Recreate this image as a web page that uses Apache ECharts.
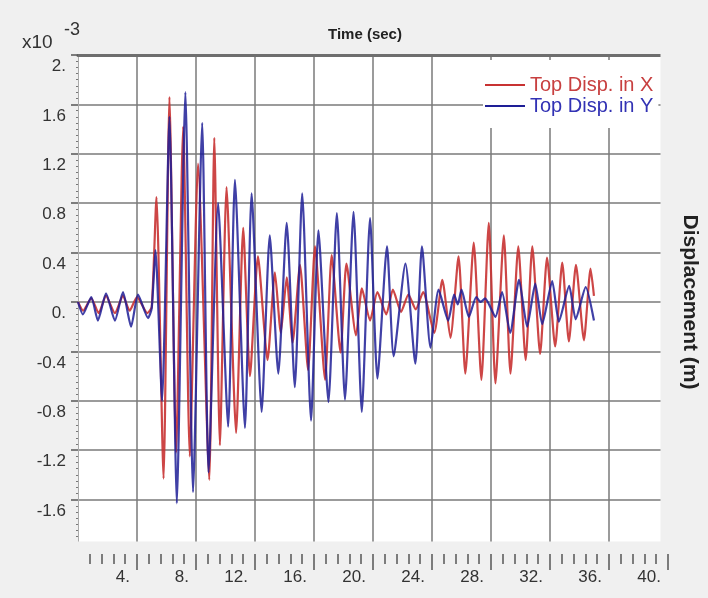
<!DOCTYPE html>
<html>
<head>
<meta charset="utf-8">
<script src="https://cdn.jsdelivr.net/npm/echarts@6/dist/echarts.min.js"></script>
<style>
html, body { margin: 0; padding: 0; background: #f0f0f0; }
#chart { width: 708px; height: 598px; }
</style>
</head>
<body>
<div id="chart"></div>
<script>
// peaks and troughs: time (sec) and displacement (x10^-3 m)
var dispXTime = [0, 0.35, 0.9, 1.4, 1.9, 2.5, 3.05, 3.5, 4.0, 4.7, 5.0,
  5.32, 5.8, 6.2, 6.65, 7.13, 7.58, 8.14, 8.9, 9.24, 9.62, 10.07, 10.72, 11.2, 11.66,
  12.2, 12.85, 13.35, 13.75, 14.15, 14.55, 15.05, 15.6, 16.07, 16.75, 17.2, 17.8, 18.2, 18.85,
  19.25, 19.8, 20.3, 20.9, 21.35, 21.9, 22.4, 22.9, 23.4, 24.15, 24.7, 25.25, 25.8, 26.26,
  26.83, 27.35, 27.85, 28.3, 28.87, 29.32, 29.85, 30.35, 30.8, 31.33, 31.8, 32.35, 32.83,
  33.28, 33.76, 34.3, 34.75, 34.98];
var dispXVal = [0, -0.07, 0.03, -0.09, 0.05, -0.09, 0.05, -0.07, 0.04, -0.09, -0.04,
  0.85, -1.43, 1.66, -1.22, 1.42, -1.25, 1.12, -1.44, 1.33, -1.16, 0.93, -1.06, 0.6, -0.6,
  0.37, -0.47, 0.24, -0.25, 0.2, -0.33, 0.3, -0.55, 0.45, -0.63, 0.38, -0.41, 0.31, -0.27,
  0.11, -0.15, 0.08, -0.1, 0.1, -0.08, 0.06, -0.06, 0.08, -0.25, 0.18, -0.29, 0.37, -0.58,
  0.48, -0.63, 0.64, -0.66, 0.54, -0.58, 0.45, -0.47, 0.45, -0.42, 0.36, -0.36, 0.32,
  -0.32, 0.3, -0.31, 0.27, 0.05];

var dispYTime = [0, 0.33, 0.9, 1.35, 1.9, 2.5, 3.05, 3.6, 4.07, 4.75, 5.0,
  5.25, 5.7, 6.2, 6.7, 7.28, 7.8, 8.42, 8.85, 9.5, 10.18, 10.64, 11.32, 11.77, 12.45,
  13.0, 13.58, 14.15, 14.7, 15.2, 15.8, 16.3, 16.98, 17.55, 18.1, 18.68, 19.24, 19.8, 20.3,
  20.95, 21.4, 22.2, 22.87, 23.32, 23.9, 24.45, 25.1, 25.5, 25.75, 26.0, 26.5, 27.0, 27.3,
  27.6, 28.3, 28.75, 29.3, 29.9, 30.45, 31.0, 31.47, 32.15, 32.6, 33.3, 33.74, 34.42, 34.98];
var dispYVal = [0, -0.1, 0.04, -0.15, 0.07, -0.15, 0.08, -0.2, 0.06, -0.13, -0.05,
  0.42, -0.8, 1.5, -1.63, 1.7, -1.54, 1.45, -1.38, 0.8, -1.01, 0.99, -1.02, 0.88, -0.89,
  0.54, -0.58, 0.64, -0.69, 0.88, -0.96, 0.58, -0.81, 0.72, -0.79, 0.73, -0.89, 0.68, -0.62,
  0.45, -0.44, 0.31, -0.5, 0.45, -0.37, 0.1, -0.15, 0.06, -0.02, 0.1, -0.12, 0.04, 0,
  0.03, -0.12, 0.08, -0.25, 0.18, -0.2, 0.15, -0.18, 0.17, -0.16, 0.13, -0.14, 0.12, -0.15];

var seriesNames = ['Top Disp. in X', 'Top Disp. in Y'];
var seriesColors = ['#c83232', '#1e1e96'];
var legendTextColors = ['#c84040', '#3232b4'];

function pairs(ts, vs) {
  return ts.map(function (t, i) { return [t, vs[i]]; });
}
// labels like "4." and "1.6"
function tickText(v) {
  var r = Math.round(v * 10) / 10;
  return (r % 1 === 0) ? r + '.' : r.toFixed(1);
}

var font = 'Arial, "Liberation Sans", sans-serif';
var chart = echarts.init(document.getElementById('chart'));

chart.setOption({
  animation: false,
  backgroundColor: '#f0f0f0',
  textStyle: { fontFamily: font },
  grid: {
    left: 78, right: 39, top: 55, bottom: 49,
    show: true, backgroundColor: '#ffffff', borderWidth: 0
  },
  legend: {
    orient: 'vertical',
    left: 483, top: 60,
    padding: [15, 5, 12, 2],
    backgroundColor: '#ffffff',
    icon: 'rect',
    itemWidth: 40, itemHeight: 2, itemGap: 1,
    textStyle: { fontSize: 20, fontFamily: font },
    data: seriesNames.map(function (n, i) {
      return { name: n, textStyle: { color: legendTextColors[i] } };
    })
  },
  xAxis: [{
    type: 'value', min: 0, max: 40, interval: 4,
    position: 'bottom', offset: 5,
    axisLine: { show: false, onZero: false },
    axisTick: { show: true, length: 16, lineStyle: { color: '#555', width: 1.5 } },
    minorTick: { show: true, splitNumber: 5, length: 10, lineStyle: { color: '#555', width: 1.5 } },
    axisLabel: {
      formatter: tickText, showMinLabel: false, align: 'right',
      padding: [0, 7, 0, 0], margin: 15, fontSize: 17, color: '#333'
    },
    splitLine: { show: true, showMinLine: false, showMaxLine: false, lineStyle: { color: '#7a7a7a', width: 1.5 } }
  }, {
    type: 'value', min: 0, max: 40, position: 'top',
    name: 'Time (sec)', nameLocation: 'middle', nameGap: 13,
    nameTextStyle: { fontSize: 15, fontWeight: 'bold', color: '#222', padding: [0, 16, 0, 0] },
    axisLine: { show: true, onZero: false, lineStyle: { color: '#6e6e6e', width: 3 } },
    axisTick: { show: false }, axisLabel: { show: false }, splitLine: { show: false }
  }],
  yAxis: [{
    type: 'value', min: -2, max: 2, interval: 0.4,
    axisLine: { show: true, onZero: false, lineStyle: { color: '#aaa', width: 1 } },
    axisTick: { show: true, length: 7, lineStyle: { color: '#555', width: 1.5 } },
    minorTick: { show: true, splitNumber: 8, length: 2, lineStyle: { color: '#777' } },
    axisLabel: {
      formatter: tickText, showMinLabel: false, verticalAlign: 'top',
      padding: [3, 0, 0, 0], margin: 12, fontSize: 17, color: '#333'
    },
    splitLine: { show: true, showMinLine: false, showMaxLine: false, lineStyle: { color: '#7a7a7a', width: 1.5 } }
  }, {
    type: 'value', min: -2, max: 2, position: 'right',
    name: 'Displacement (m)', nameLocation: 'middle', nameGap: 11, nameRotate: -90,
    nameTextStyle: { fontSize: 21, fontWeight: 'bold', color: '#222' },
    axisLine: { show: false, onZero: false }, axisTick: { show: false }, axisLabel: { show: false }, splitLine: { show: false }
  }],
  graphic: [
    // plot ends a little above -2 and left of 40 s; no tick drawn at 0 s
    { type: 'rect', z: 100, shape: { x: 40, y: 541.5, width: 640, height: 9 }, style: { fill: '#f0f0f0' } },
    { type: 'rect', z: 100, shape: { x: 660.5, y: 48, width: 12, height: 503 }, style: { fill: '#f0f0f0' } },
    { type: 'rect', z: 100, shape: { x: 74, y: 551, width: 8, height: 22 }, style: { fill: '#f0f0f0' } },
    { type: 'text', z: 100, left: 22, top: 33, style: { text: 'x10', fontSize: 19, fontFamily: font, fill: '#333' } },
    { type: 'text', z: 100, left: 64, top: 21, style: { text: '-3', fontSize: 18, fontFamily: font, fill: '#333' } }
  ],
  series: [{
    name: seriesNames[0], type: 'line', showSymbol: false, smooth: 0.2,
    color: seriesColors[0], lineStyle: { width: 2.2, opacity: 0.9 }, z: 2,
    data: pairs(dispXTime, dispXVal)
  }, {
    name: seriesNames[1], type: 'line', showSymbol: false, smooth: 0.2,
    color: seriesColors[1], lineStyle: { width: 2.2, opacity: 0.85 }, z: 3,
    data: pairs(dispYTime, dispYVal)
  }]
});
</script>
</body>
</html>
